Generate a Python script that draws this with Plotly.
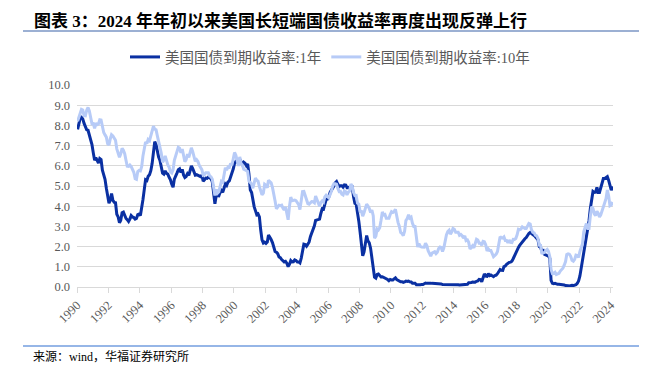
import pandas as pd
import plotly.graph_objects as go

# Monthly yields (%), Jan 1990 - Feb 2024
y1 = [
    7.80, 8.11, 8.35, 8.40, 8.32, 8.10, 7.94, 7.78, 7.76, 7.55, 7.31, 7.05,   # 1990
    6.64, 6.27, 6.40, 6.24, 6.13, 6.36, 6.31, 5.78, 5.57, 5.33, 4.89, 4.38,   # 1991
    4.15, 4.29, 4.63, 4.30, 4.19, 4.17, 3.60, 3.47, 3.18, 3.30, 3.68, 3.71,   # 1992
    3.50, 3.39, 3.33, 3.24, 3.36, 3.54, 3.47, 3.44, 3.36, 3.39, 3.58, 3.61,   # 1993
    3.54, 3.87, 4.32, 4.82, 5.31, 5.27, 5.48, 5.56, 5.76, 6.11, 6.54, 7.20,   # 1994
    7.05, 6.70, 6.43, 6.27, 6.00, 5.64, 5.59, 5.75, 5.62, 5.59, 5.43, 5.31,   # 1995
    5.09, 4.94, 5.34, 5.54, 5.64, 5.81, 5.85, 5.67, 5.83, 5.55, 5.42, 5.47,   # 1996
    5.61, 5.53, 5.80, 5.99, 5.87, 5.69, 5.54, 5.56, 5.52, 5.46, 5.46, 5.53,   # 1997
    5.24, 5.31, 5.39, 5.38, 5.44, 5.41, 5.36, 5.21, 4.71, 4.12, 4.53, 4.52,   # 1998
    4.51, 4.70, 4.78, 4.69, 4.85, 5.10, 5.03, 5.20, 5.25, 5.43, 5.55, 5.84,   # 1999
    6.12, 6.22, 6.22, 6.15, 6.33, 6.17, 6.08, 6.18, 6.13, 6.01, 6.09, 5.60,   # 2000
    4.81, 4.68, 4.30, 3.98, 3.78, 3.58, 3.62, 3.47, 2.82, 2.33, 2.18, 2.22,   # 2001
    2.16, 2.23, 2.57, 2.48, 2.35, 2.20, 1.96, 1.76, 1.72, 1.65, 1.49, 1.45,   # 2002
    1.36, 1.30, 1.24, 1.27, 1.18, 1.01, 1.12, 1.31, 1.24, 1.25, 1.34, 1.31,   # 2003
    1.24, 1.24, 1.19, 1.43, 1.78, 2.12, 2.10, 2.02, 2.12, 2.23, 2.50, 2.67,   # 2004
    2.86, 3.03, 3.30, 3.32, 3.33, 3.36, 3.64, 3.87, 3.85, 4.18, 4.33, 4.35,   # 2005
    4.45, 4.68, 4.77, 4.90, 5.00, 5.16, 5.22, 5.08, 4.97, 5.01, 5.01, 4.94,   # 2006
    5.06, 5.05, 4.92, 4.93, 4.91, 4.96, 4.96, 4.47, 4.14, 4.10, 3.50, 3.26,   # 2007
    2.71, 2.05, 1.54, 1.74, 2.06, 2.55, 2.28, 2.18, 1.91, 1.42, 1.07, 0.49,   # 2008
    0.44, 0.62, 0.64, 0.55, 0.50, 0.51, 0.48, 0.46, 0.40, 0.37, 0.31, 0.37,   # 2009
    0.35, 0.35, 0.40, 0.45, 0.37, 0.32, 0.29, 0.26, 0.26, 0.23, 0.25, 0.29,   # 2010
    0.27, 0.29, 0.26, 0.25, 0.19, 0.18, 0.19, 0.11, 0.10, 0.11, 0.11, 0.12,   # 2011
    0.12, 0.16, 0.19, 0.18, 0.19, 0.19, 0.19, 0.18, 0.18, 0.18, 0.18, 0.16,   # 2012
    0.15, 0.16, 0.15, 0.12, 0.12, 0.14, 0.12, 0.13, 0.12, 0.12, 0.12, 0.13,   # 2013
    0.12, 0.12, 0.13, 0.11, 0.10, 0.10, 0.11, 0.11, 0.11, 0.10, 0.13, 0.21,   # 2014
    0.20, 0.22, 0.25, 0.23, 0.24, 0.28, 0.30, 0.38, 0.37, 0.26, 0.48, 0.65,   # 2015
    0.54, 0.53, 0.66, 0.56, 0.59, 0.55, 0.51, 0.57, 0.59, 0.66, 0.74, 0.87,   # 2016
    0.83, 0.82, 1.01, 1.04, 1.12, 1.20, 1.22, 1.23, 1.28, 1.40, 1.56, 1.70,   # 2017
    1.80, 1.96, 2.06, 2.15, 2.27, 2.33, 2.39, 2.45, 2.56, 2.65, 2.70, 2.66,   # 2018
    2.58, 2.55, 2.49, 2.42, 2.34, 2.00, 1.96, 1.77, 1.80, 1.61, 1.57, 1.55,   # 2019
    1.53, 1.41, 0.33, 0.18, 0.16, 0.18, 0.15, 0.13, 0.13, 0.13, 0.12, 0.10,   # 2020
    0.10, 0.07, 0.08, 0.06, 0.05, 0.07, 0.08, 0.07, 0.08, 0.11, 0.18, 0.30,   # 2021
    0.55, 0.95, 1.34, 1.89, 2.06, 2.65, 3.02, 3.28, 3.89, 4.43, 4.73, 4.68,   # 2022
    4.69, 4.93, 4.68, 4.68, 4.91, 5.24, 5.37, 5.37, 5.44, 5.46, 5.28, 4.96,   # 2023
    4.79, 4.98,                                                               # 2024
]
y10 = [
    8.21, 8.47, 8.59, 8.79, 8.76, 8.48, 8.47, 8.75, 8.89, 8.72, 8.39, 8.08,   # 1990
    8.09, 7.85, 8.11, 8.04, 8.07, 8.28, 8.27, 7.90, 7.65, 7.53, 7.42, 7.09,   # 1991
    7.03, 7.34, 7.54, 7.48, 7.39, 7.26, 6.84, 6.59, 6.42, 6.59, 6.87, 6.77,   # 1992
    6.60, 6.26, 5.98, 5.97, 6.04, 5.96, 5.81, 5.68, 5.36, 5.33, 5.72, 5.77,   # 1993
    5.75, 5.97, 6.48, 6.97, 7.18, 7.10, 7.30, 7.24, 7.46, 7.74, 7.96, 7.81,   # 1994
    7.78, 7.47, 7.20, 7.06, 6.63, 6.17, 6.28, 6.49, 6.20, 6.04, 5.93, 5.71,   # 1995
    5.65, 5.81, 6.27, 6.51, 6.74, 6.91, 6.87, 6.64, 6.83, 6.53, 6.20, 6.30,   # 1996
    6.58, 6.42, 6.69, 6.89, 6.71, 6.49, 6.22, 6.30, 6.21, 6.03, 5.88, 5.81,   # 1997
    5.54, 5.57, 5.65, 5.64, 5.65, 5.50, 5.46, 5.34, 4.81, 4.53, 4.83, 4.65,   # 1998
    4.72, 5.00, 5.23, 5.18, 5.54, 5.90, 5.79, 5.94, 5.92, 6.11, 6.03, 6.28,   # 1999
    6.66, 6.52, 6.26, 5.99, 6.44, 6.10, 6.05, 5.83, 5.80, 5.74, 5.72, 5.24,   # 2000
    5.16, 5.10, 4.89, 5.14, 5.39, 5.28, 5.24, 4.97, 4.73, 4.57, 4.65, 5.09,   # 2001
    5.04, 4.91, 5.28, 5.21, 5.16, 4.93, 4.65, 4.26, 3.87, 3.94, 4.05, 4.03,   # 2002
    4.05, 3.90, 3.81, 3.96, 3.57, 3.33, 3.98, 4.45, 4.27, 4.29, 4.30, 4.27,   # 2003
    4.15, 4.08, 3.83, 4.35, 4.72, 4.73, 4.50, 4.28, 4.13, 4.10, 4.19, 4.23,   # 2004
    4.22, 4.17, 4.50, 4.34, 4.14, 4.00, 4.18, 4.26, 4.20, 4.46, 4.54, 4.47,   # 2005
    4.42, 4.57, 4.72, 4.99, 5.11, 5.11, 5.09, 4.88, 4.72, 4.73, 4.60, 4.56,   # 2006
    4.76, 4.72, 4.56, 4.69, 4.75, 5.10, 5.00, 4.67, 4.52, 4.53, 4.15, 4.10,   # 2007
    3.74, 3.74, 3.51, 3.68, 3.88, 4.10, 4.01, 3.89, 3.69, 3.81, 3.53, 2.42,   # 2008
    2.52, 2.87, 2.82, 2.93, 3.29, 3.72, 3.56, 3.59, 3.40, 3.39, 3.40, 3.59,   # 2009
    3.73, 3.69, 3.73, 3.85, 3.42, 3.20, 3.01, 2.70, 2.65, 2.54, 2.76, 3.29,   # 2010
    3.39, 3.58, 3.41, 3.46, 3.17, 3.00, 3.00, 2.30, 1.98, 2.15, 2.01, 1.98,   # 2011
    1.97, 1.97, 2.17, 2.05, 1.80, 1.62, 1.53, 1.68, 1.72, 1.75, 1.65, 1.72,   # 2012
    1.91, 1.98, 1.96, 1.76, 1.93, 2.30, 2.58, 2.74, 2.81, 2.62, 2.72, 2.90,   # 2013
    2.86, 2.71, 2.72, 2.71, 2.56, 2.60, 2.54, 2.42, 2.53, 2.30, 2.33, 2.21,   # 2014
    1.88, 1.98, 2.04, 1.94, 2.20, 2.36, 2.32, 2.17, 2.17, 2.07, 2.26, 2.24,   # 2015
    2.09, 1.78, 1.89, 1.81, 1.81, 1.64, 1.50, 1.56, 1.63, 1.76, 2.14, 2.49,   # 2016
    2.43, 2.42, 2.48, 2.30, 2.30, 2.19, 2.32, 2.21, 2.20, 2.36, 2.35, 2.40,   # 2017
    2.58, 2.86, 2.84, 2.87, 2.98, 2.91, 2.89, 2.89, 3.00, 3.15, 3.12, 2.83,   # 2018
    2.71, 2.68, 2.57, 2.53, 2.40, 2.07, 2.06, 1.63, 1.70, 1.71, 1.81, 1.86,   # 2019
    1.76, 1.50, 0.87, 0.66, 0.67, 0.73, 0.62, 0.65, 0.68, 0.79, 0.87, 0.93,   # 2020
    1.08, 1.26, 1.61, 1.64, 1.62, 1.52, 1.32, 1.28, 1.37, 1.58, 1.56, 1.47,   # 2021
    1.76, 1.93, 2.13, 2.75, 2.90, 3.14, 2.90, 2.90, 3.52, 3.98, 3.89, 3.62,   # 2022
    3.53, 3.75, 3.66, 3.46, 3.57, 3.75, 3.90, 4.17, 4.38, 4.80, 4.50, 4.02,   # 2023
    4.06, 4.21,                                                               # 2024
]
series_names = ["美国国债到期收益率:1年", "美国国债到期收益率:10年"]
title_text = "图表 3：2024 年年初以来美国长短端国债收益率再度出现反弹上行"
source_text = "来源：wind，华福证券研究所"

dates = pd.date_range("1990-01-01", periods=len(y1), freq="MS") + pd.Timedelta(days=14)

DARK = "#0a30a2"
LIGHT = "#b7cbf7"
GRAY = "#595959"
SERIF = "Liberation Serif, Noto Sans CJK SC, serif"

fig = go.Figure()
fig.add_trace(go.Scatter(x=dates, y=y1, mode="lines", name=series_names[0],
                         line=dict(color=DARK, width=3)))
fig.add_trace(go.Scatter(x=dates, y=y10, mode="lines", name=series_names[1],
                         line=dict(color=LIGHT, width=3)))

# page body has an 8px margin: figure is placed at (8, 8) in the window
OFF = 8
W, H = 651 - OFF, 374 - OFF
L, T = 77 - OFF, 85 - OFF
R = W - (613 - OFF)
B = H - (287 - OFF)
pw, ph = W - L - R, H - T - B

def px(xp):
    return (xp - OFF - L) / pw

def py(yp):
    return (H - B - (yp - OFF)) / ph

fig.update_layout(
    width=W, height=H,
    margin=dict(l=L, r=R, t=T, b=B, autoexpand=False),
    paper_bgcolor="white", plot_bgcolor="white",
    font=dict(family=SERIF, size=12, color=GRAY),
    showlegend=True,
    legend=dict(orientation="h", x=px(330), xanchor="center", y=py(57), yanchor="middle",
                font=dict(family=SERIF, size=14.5, color=GRAY),
                bgcolor="rgba(0,0,0,0)", itemwidth=30),
    xaxis=dict(type="date", range=["1990-01-01", "2024-02-24"],
               tick0="1990-01-01", dtick="M24", tickformat="%Y", tickangle=-45,
               showgrid=False, showline=True, linecolor="#d9d9d9", linewidth=1,
               ticks="outside", ticklen=5, tickcolor="#d9d9d9",
               tickfont=dict(family=SERIF, size=12.5, color=GRAY), zeroline=False),
    yaxis=dict(range=[0, 10], dtick=1, tickformat=".1f",
               showgrid=True, gridcolor="#d9d9d9", gridwidth=1,
               zeroline=False, showline=False, ticks="", ticklabelstandoff=6,
               tickfont=dict(family=SERIF, size=12.5, color=GRAY)),
)

fig.add_annotation(text="<b>" + title_text + "</b>", xref="paper", yref="paper",
                   x=px(32), y=py(21), xanchor="left", yanchor="middle", showarrow=False,
                   font=dict(family=SERIF, size=17, color="black"))
fig.add_annotation(text=source_text, xref="paper", yref="paper",
                   x=px(31), y=py(356), xanchor="left", yanchor="middle", showarrow=False,
                   font=dict(family=SERIF, size=12, color="black"))
fig.add_shape(type="line", xref="paper", yref="paper", x0=px(23), x1=px(639),
              y0=py(31), y1=py(31), line=dict(color="#3a62a8", width=1.2))
fig.add_shape(type="line", xref="paper", yref="paper", x0=px(23), x1=px(639),
              y0=py(346), y1=py(346), line=dict(color="#2f6fcf", width=1.2))

fig.write_html("out.html")
